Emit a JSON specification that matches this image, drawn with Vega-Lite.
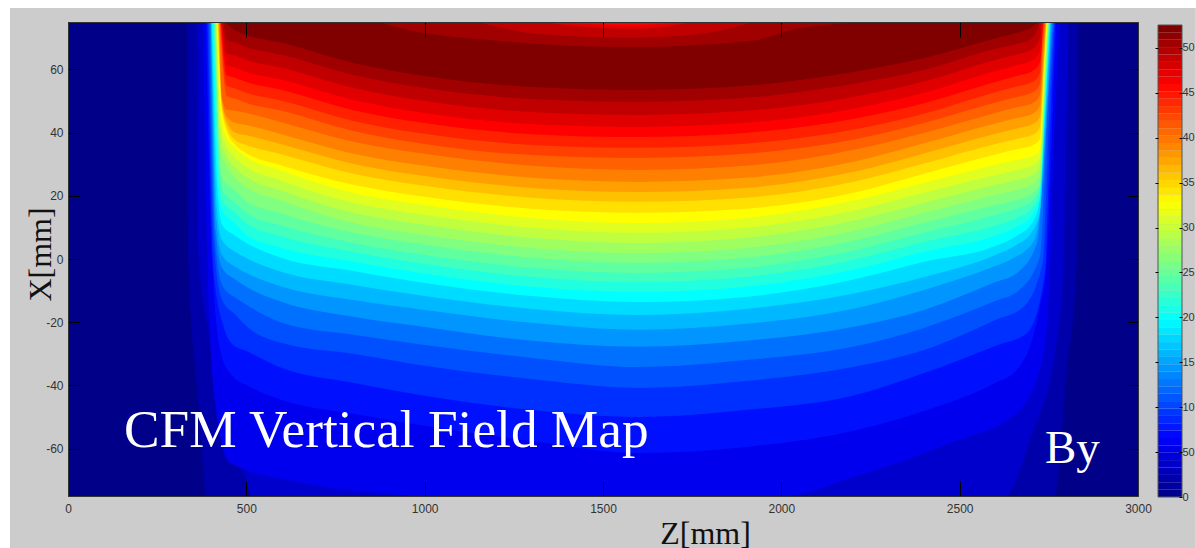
{"$schema":"https://vega.github.io/schema/vega-lite/v6.json","background":"white","padding":{"left":10,"top":8,"right":0,"bottom":0},"width":1070,"height":474,"config":{"view":{"stroke":null},"axis":{"grid":false}},"resolve":{"scale":{"x":"independent","y":"independent","color":"independent"},"axis":{"x":"independent","y":"independent"}},"layer":[{"resolve":{"axis":{"x":"independent","y":"independent"}},"layer":[
{"data":{"values":[{"a":-162.6,"b":3162,"c":-92,"d":79.4}]},"mark":{"type":"rect","color":"#cccccc","clip":false},"encoding":{"x":{"field":"a","type":"quantitative","scale":{"domain":[0,3000],"nice":false,"zero":false},"axis":null},"x2":{"field":"b"},"y":{"field":"c","type":"quantitative","scale":{"domain":[-75,75],"nice":false,"zero":false},"axis":null},"y2":{"field":"d"}}},
{"data":{"values":[
{"l":0,"z":0,"x":-75},{"l":0,"z":3000,"x":-75},
{"l":1,"z":334,"x":75},{"l":1,"z":336,"x":2.9},{"l":1,"z":365,"x":-44.6},{"l":1,"z":390,"x":-75},{"l":1,"z":2765,"x":-75},{"l":1,"z":2800,"x":-36},{"l":1,"z":2829,"x":0.7},{"l":1,"z":2832,"x":75},
{"l":2,"z":362,"x":75},{"l":2,"z":365,"x":2.9},{"l":2,"z":400,"x":-25.6},{"l":2,"z":435,"x":-43.7},{"l":2,"z":500,"x":-69.9},{"l":2,"z":515,"x":-75},{"l":2,"z":2627,"x":-75},{"l":2,"z":2697,"x":-57.3},{"l":2,"z":2773,"x":-25.6},{"l":2,"z":2790,"x":-4.4},{"l":2,"z":2804,"x":75},
{"l":3,"z":378,"x":75},{"l":3,"z":390,"x":2.9},{"l":3,"z":412,"x":-44.6},{"l":3,"z":454,"x":-64.5},{"l":3,"z":660,"x":-70.9},{"l":3,"z":940,"x":-74.7},{"l":3,"z":990,"x":-75},{"l":3,"z":2005,"x":-75},{"l":3,"z":2193,"x":-69.3},{"l":3,"z":2473,"x":-58.2},{"l":3,"z":2660,"x":-48.7},{"l":3,"z":2734,"x":-31},{"l":3,"z":2753,"x":-4.4},{"l":3,"z":2759,"x":18.7},{"l":3,"z":2781,"x":75},
{"l":4,"z":387,"x":75},{"l":4,"z":404,"x":-0.3},{"l":4,"z":430,"x":-30.4},{"l":4,"z":463,"x":-37.3},{"l":4,"z":500,"x":-39.9},{"l":4,"z":600,"x":-44.6},{"l":4,"z":800,"x":-49},{"l":4,"z":1000,"x":-52.8},{"l":4,"z":1300,"x":-57.6},{"l":4,"z":1600,"x":-61.4},{"l":4,"z":1900,"x":-59.5},{"l":4,"z":2200,"x":-54.4},{"l":4,"z":2400,"x":-48.1},{"l":4,"z":2600,"x":-39.2},{"l":4,"z":2660,"x":-35.1},{"l":4,"z":2725,"x":-15.2},{"l":4,"z":2745,"x":0.7},{"l":4,"z":2760,"x":44},{"l":4,"z":2770,"x":75},
{"l":5,"z":391,"x":75},{"l":5,"z":408,"x":-3.5},{"l":5,"z":435,"x":-20.9},{"l":5,"z":463,"x":-27.2},{"l":5,"z":500,"x":-29.1},{"l":5,"z":600,"x":-34.5},{"l":5,"z":800,"x":-39.2},{"l":5,"z":1000,"x":-43.3},{"l":5,"z":1300,"x":-47.8},{"l":5,"z":1600,"x":-50},{"l":5,"z":1900,"x":-47.8},{"l":5,"z":2200,"x":-43.3},{"l":5,"z":2400,"x":-36.1},{"l":5,"z":2600,"x":-27.5},{"l":5,"z":2689,"x":-23.4},{"l":5,"z":2739,"x":-4.4},{"l":5,"z":2755,"x":44},{"l":5,"z":2767,"x":75},
{"l":6,"z":394,"x":75},{"l":6,"z":410,"x":2.9},{"l":6,"z":432,"x":-12.9},{"l":6,"z":470,"x":-17.7},{"l":6,"z":500,"x":-21.2},{"l":6,"z":600,"x":-26.6},{"l":6,"z":800,"x":-30},{"l":6,"z":1000,"x":-33.8},{"l":6,"z":1300,"x":-38},{"l":6,"z":1600,"x":-40.8},{"l":6,"z":1900,"x":-38.6},{"l":6,"z":2200,"x":-34.2},{"l":6,"z":2400,"x":-28.8},{"l":6,"z":2600,"x":-19.3},{"l":6,"z":2678,"x":-15.2},{"l":6,"z":2734,"x":-0.3},{"l":6,"z":2750,"x":44},{"l":6,"z":2765,"x":75},
{"l":7,"z":397,"x":75},{"l":7,"z":412,"x":6},{"l":7,"z":432,"x":-8.2},{"l":7,"z":470,"x":-12.3},{"l":7,"z":500,"x":-14.5},{"l":7,"z":600,"x":-20.2},{"l":7,"z":800,"x":-24},{"l":7,"z":1000,"x":-27.2},{"l":7,"z":1300,"x":-31.3},{"l":7,"z":1600,"x":-34.2},{"l":7,"z":1900,"x":-32},{"l":7,"z":2200,"x":-27.8},{"l":7,"z":2400,"x":-21.8},{"l":7,"z":2600,"x":-13.3},{"l":7,"z":2661,"x":-10.4},{"l":7,"z":2725,"x":0.7},{"l":7,"z":2745,"x":44},{"l":7,"z":2762,"x":75},
{"l":8,"z":400,"x":75},{"l":8,"z":414,"x":9.2},{"l":8,"z":432,"x":-2.8},{"l":8,"z":470,"x":-6.6},{"l":8,"z":500,"x":-8.8},{"l":8,"z":600,"x":-13.6},{"l":8,"z":800,"x":-18.3},{"l":8,"z":1000,"x":-21.5},{"l":8,"z":1300,"x":-25.9},{"l":8,"z":1600,"x":-27.8},{"l":8,"z":1900,"x":-25.9},{"l":8,"z":2200,"x":-21.5},{"l":8,"z":2400,"x":-16.1},{"l":8,"z":2600,"x":-7.3},{"l":8,"z":2661,"x":-4.4},{"l":8,"z":2717,"x":5.1},{"l":8,"z":2735,"x":28},{"l":8,"z":2759,"x":75},
{"l":9,"z":401,"x":75},{"l":9,"z":416,"x":12.4},{"l":9,"z":432,"x":1.3},{"l":9,"z":470,"x":-2.5},{"l":9,"z":500,"x":-4.4},{"l":9,"z":600,"x":-8.8},{"l":9,"z":800,"x":-13},{"l":9,"z":1000,"x":-16.1},{"l":9,"z":1300,"x":-20.2},{"l":9,"z":1600,"x":-22.4},{"l":9,"z":1900,"x":-20.5},{"l":9,"z":2200,"x":-15.8},{"l":9,"z":2400,"x":-9.8},{"l":9,"z":2600,"x":-2.2},{"l":9,"z":2641,"x":-0.3},{"l":9,"z":2710,"x":6},{"l":9,"z":2730,"x":21.9},{"l":9,"z":2745,"x":50.4},{"l":9,"z":2757,"x":75},
{"l":10,"z":402,"x":75},{"l":10,"z":418,"x":15.5},{"l":10,"z":432,"x":6},{"l":10,"z":470,"x":2.2},{"l":10,"z":500,"x":0.3},{"l":10,"z":600,"x":-4.1},{"l":10,"z":800,"x":-8.2},{"l":10,"z":1000,"x":-11.7},{"l":10,"z":1300,"x":-15.8},{"l":10,"z":1600,"x":-17.7},{"l":10,"z":1900,"x":-15.8},{"l":10,"z":2200,"x":-11},{"l":10,"z":2400,"x":-5.7},{"l":10,"z":2600,"x":1.3},{"l":10,"z":2660,"x":4.5},{"l":10,"z":2703,"x":8.6},{"l":10,"z":2725,"x":14.9},{"l":10,"z":2738,"x":41},{"l":10,"z":2755,"x":75},
{"l":11,"z":404,"x":75},{"l":11,"z":420,"x":20.3},{"l":11,"z":432,"x":10.8},{"l":11,"z":470,"x":7.3},{"l":11,"z":500,"x":5.1},{"l":11,"z":600,"x":0.3},{"l":11,"z":800,"x":-3.8},{"l":11,"z":1000,"x":-7.6},{"l":11,"z":1300,"x":-11.7},{"l":11,"z":1600,"x":-13.6},{"l":11,"z":1900,"x":-12},{"l":11,"z":2200,"x":-6.6},{"l":11,"z":2400,"x":-0.9},{"l":11,"z":2600,"x":4.1},{"l":11,"z":2660,"x":7.3},{"l":11,"z":2705,"x":11.7},{"l":11,"z":2725,"x":18.7},{"l":11,"z":2738,"x":43},{"l":11,"z":2753,"x":75},
{"l":12,"z":407,"x":75},{"l":12,"z":422,"x":23.5},{"l":12,"z":432,"x":15.5},{"l":12,"z":470,"x":11.1},{"l":12,"z":500,"x":7.6},{"l":12,"z":600,"x":3.5},{"l":12,"z":800,"x":-0.9},{"l":12,"z":1000,"x":-4.7},{"l":12,"z":1300,"x":-8.8},{"l":12,"z":1600,"x":-10.4},{"l":12,"z":1900,"x":-8.8},{"l":12,"z":2200,"x":-3.4},{"l":12,"z":2400,"x":2.3},{"l":12,"z":2600,"x":7.4},{"l":12,"z":2660,"x":10.2},{"l":12,"z":2705,"x":14},{"l":12,"z":2725,"x":20},{"l":12,"z":2738,"x":45},{"l":12,"z":2752,"x":75},
{"l":13,"z":409,"x":75},{"l":13,"z":423,"x":26.6},{"l":13,"z":432,"x":18.7},{"l":13,"z":470,"x":14.5},{"l":13,"z":500,"x":11.2},{"l":13,"z":600,"x":7.1},{"l":13,"z":800,"x":2.2},{"l":13,"z":1000,"x":-1.6},{"l":13,"z":1300,"x":-5.7},{"l":13,"z":1600,"x":-7.3},{"l":13,"z":1900,"x":-5.7},{"l":13,"z":2200,"x":-0.3},{"l":13,"z":2400,"x":5.4},{"l":13,"z":2600,"x":10.6},{"l":13,"z":2660,"x":13},{"l":13,"z":2705,"x":16.3},{"l":13,"z":2725,"x":21.3},{"l":13,"z":2738,"x":47},{"l":13,"z":2751,"x":75},
{"l":14,"z":410,"x":75},{"l":14,"z":424,"x":29.5},{"l":14,"z":432,"x":21.9},{"l":14,"z":470,"x":17.6},{"l":14,"z":500,"x":14.6},{"l":14,"z":600,"x":10.5},{"l":14,"z":800,"x":5.1},{"l":14,"z":1000,"x":1.3},{"l":14,"z":1300,"x":-2.8},{"l":14,"z":1600,"x":-4.4},{"l":14,"z":1900,"x":-2.8},{"l":14,"z":2200,"x":2.6},{"l":14,"z":2400,"x":8.3},{"l":14,"z":2600,"x":13.9},{"l":14,"z":2660,"x":15.9},{"l":14,"z":2705,"x":18.6},{"l":14,"z":2725,"x":22.7},{"l":14,"z":2738,"x":49},{"l":14,"z":2750,"x":75},
{"l":15,"z":412,"x":75},{"l":15,"z":425,"x":32.8},{"l":15,"z":432,"x":25.8},{"l":15,"z":470,"x":21.5},{"l":15,"z":500,"x":18.3},{"l":15,"z":600,"x":14.3},{"l":15,"z":800,"x":8.3},{"l":15,"z":1000,"x":4.5},{"l":15,"z":1300,"x":0.4},{"l":15,"z":1600,"x":-1.2},{"l":15,"z":1900,"x":0.4},{"l":15,"z":2200,"x":5.8},{"l":15,"z":2400,"x":11.5},{"l":15,"z":2600,"x":17.1},{"l":15,"z":2660,"x":18.7},{"l":15,"z":2705,"x":20.9},{"l":15,"z":2725,"x":24},{"l":15,"z":2738,"x":51},{"l":15,"z":2749,"x":75},
{"l":16,"z":413,"x":75},{"l":16,"z":426,"x":35.1},{"l":16,"z":440,"x":30.4},{"l":16,"z":470,"x":25.6},{"l":16,"z":500,"x":22.8},{"l":16,"z":600,"x":18.4},{"l":16,"z":800,"x":11.4},{"l":16,"z":1000,"x":7.6},{"l":16,"z":1300,"x":3.5},{"l":16,"z":1600,"x":1.9},{"l":16,"z":1900,"x":3.5},{"l":16,"z":2200,"x":8.9},{"l":16,"z":2400,"x":14.6},{"l":16,"z":2600,"x":20.3},{"l":16,"z":2660,"x":21.9},{"l":16,"z":2705,"x":23.8},{"l":16,"z":2725,"x":26.6},{"l":16,"z":2738,"x":53},{"l":16,"z":2748,"x":75},
{"l":17,"z":415,"x":75},{"l":17,"z":427,"x":38.3},{"l":17,"z":440,"x":33.6},{"l":17,"z":470,"x":28.8},{"l":17,"z":500,"x":26},{"l":17,"z":600,"x":21.6},{"l":17,"z":800,"x":14.6},{"l":17,"z":1000,"x":10.8},{"l":17,"z":1300,"x":6.7},{"l":17,"z":1600,"x":5.1},{"l":17,"z":1900,"x":6.7},{"l":17,"z":2200,"x":12.1},{"l":17,"z":2400,"x":17.8},{"l":17,"z":2600,"x":23.5},{"l":17,"z":2660,"x":25.1},{"l":17,"z":2705,"x":26.7},{"l":17,"z":2725,"x":29.3},{"l":17,"z":2738,"x":55},{"l":17,"z":2747,"x":75},
{"l":18,"z":416,"x":75},{"l":18,"z":428,"x":41.5},{"l":18,"z":440,"x":36.8},{"l":18,"z":470,"x":32},{"l":18,"z":500,"x":29.2},{"l":18,"z":600,"x":24.8},{"l":18,"z":800,"x":17.8},{"l":18,"z":1000,"x":14},{"l":18,"z":1300,"x":9.9},{"l":18,"z":1600,"x":8.3},{"l":18,"z":1900,"x":9.9},{"l":18,"z":2200,"x":15.3},{"l":18,"z":2400,"x":21},{"l":18,"z":2600,"x":26.6},{"l":18,"z":2660,"x":28.2},{"l":18,"z":2705,"x":29.7},{"l":18,"z":2725,"x":31.9},{"l":18,"z":2737,"x":57},{"l":18,"z":2746,"x":75},
{"l":19,"z":418,"x":75},{"l":19,"z":429,"x":44.6},{"l":19,"z":440,"x":39.9},{"l":19,"z":470,"x":35.1},{"l":19,"z":500,"x":32.3},{"l":19,"z":600,"x":27.9},{"l":19,"z":800,"x":20.9},{"l":19,"z":1000,"x":17.1},{"l":19,"z":1300,"x":13},{"l":19,"z":1600,"x":11.4},{"l":19,"z":1900,"x":13},{"l":19,"z":2200,"x":18.4},{"l":19,"z":2400,"x":24.1},{"l":19,"z":2600,"x":29.8},{"l":19,"z":2660,"x":31.4},{"l":19,"z":2705,"x":32.6},{"l":19,"z":2725,"x":34.5},{"l":19,"z":2736,"x":59},{"l":19,"z":2745,"x":75},
{"l":20,"z":419,"x":75},{"l":20,"z":432,"x":47},{"l":20,"z":445,"x":40.5},{"l":20,"z":470,"x":36},{"l":20,"z":500,"x":33.5},{"l":20,"z":600,"x":29.6},{"l":20,"z":800,"x":23.5},{"l":20,"z":1000,"x":19.7},{"l":20,"z":1300,"x":15.9},{"l":20,"z":1600,"x":14.6},{"l":20,"z":1900,"x":15.9},{"l":20,"z":2200,"x":20.9},{"l":20,"z":2400,"x":27},{"l":20,"z":2600,"x":33.1},{"l":20,"z":2660,"x":34.7},{"l":20,"z":2705,"x":36},{"l":20,"z":2725,"x":38},{"l":20,"z":2736,"x":60.5},{"l":20,"z":2744,"x":75},
{"l":21,"z":421,"x":75},{"l":21,"z":432,"x":48},{"l":21,"z":445,"x":42},{"l":21,"z":470,"x":37.5},{"l":21,"z":500,"x":36.1},{"l":21,"z":600,"x":33.1},{"l":21,"z":800,"x":27},{"l":21,"z":1000,"x":23.2},{"l":21,"z":1300,"x":19.4},{"l":21,"z":1600,"x":18.1},{"l":21,"z":1900,"x":19.4},{"l":21,"z":2200,"x":24.4},{"l":21,"z":2400,"x":30.2},{"l":21,"z":2600,"x":36.4},{"l":21,"z":2660,"x":38},{"l":21,"z":2705,"x":39.3},{"l":21,"z":2725,"x":41.5},{"l":21,"z":2736,"x":62},{"l":21,"z":2743,"x":75},
{"l":22,"z":422,"x":75},{"l":22,"z":432,"x":49},{"l":22,"z":445,"x":43.5},{"l":22,"z":470,"x":39.9},{"l":22,"z":500,"x":39.2},{"l":22,"z":600,"x":36.2},{"l":22,"z":800,"x":30.1},{"l":22,"z":1000,"x":26.3},{"l":22,"z":1300,"x":22.5},{"l":22,"z":1600,"x":21.2},{"l":22,"z":1900,"x":22.5},{"l":22,"z":2200,"x":27.5},{"l":22,"z":2400,"x":33.4},{"l":22,"z":2600,"x":39.6},{"l":22,"z":2660,"x":41.3},{"l":22,"z":2705,"x":42.7},{"l":22,"z":2725,"x":45},{"l":22,"z":2736,"x":63.5},{"l":22,"z":2742,"x":75},
{"l":23,"z":423,"x":75},{"l":23,"z":432,"x":50},{"l":23,"z":445,"x":45},{"l":23,"z":470,"x":43},{"l":23,"z":500,"x":42.4},{"l":23,"z":600,"x":39.4},{"l":23,"z":800,"x":33.3},{"l":23,"z":1000,"x":29.5},{"l":23,"z":1300,"x":25.7},{"l":23,"z":1600,"x":24.4},{"l":23,"z":1900,"x":25.7},{"l":23,"z":2200,"x":30.7},{"l":23,"z":2400,"x":36.6},{"l":23,"z":2600,"x":42.9},{"l":23,"z":2660,"x":44.6},{"l":23,"z":2705,"x":46},{"l":23,"z":2725,"x":48.4},{"l":23,"z":2735,"x":65},{"l":23,"z":2741,"x":75},
{"l":24,"z":425,"x":75},{"l":24,"z":432,"x":51},{"l":24,"z":445,"x":47.2},{"l":24,"z":470,"x":46.9},{"l":24,"z":500,"x":46.2},{"l":24,"z":600,"x":43.2},{"l":24,"z":800,"x":37.1},{"l":24,"z":1000,"x":33.3},{"l":24,"z":1300,"x":29.5},{"l":24,"z":1600,"x":28.2},{"l":24,"z":1900,"x":29.5},{"l":24,"z":2200,"x":34.5},{"l":24,"z":2400,"x":39.9},{"l":24,"z":2600,"x":46.2},{"l":24,"z":2660,"x":48},{"l":24,"z":2705,"x":49.4},{"l":24,"z":2725,"x":51.9},{"l":24,"z":2734,"x":67},{"l":24,"z":2740,"x":75},
{"l":25,"z":426,"x":75},{"l":25,"z":438,"x":55.7},{"l":25,"z":445,"x":51.6},{"l":25,"z":470,"x":50.7},{"l":25,"z":500,"x":49.4},{"l":25,"z":600,"x":46.9},{"l":25,"z":800,"x":40.5},{"l":25,"z":1000,"x":36.4},{"l":25,"z":1300,"x":32.9},{"l":25,"z":1600,"x":32},{"l":25,"z":1900,"x":33.3},{"l":25,"z":2200,"x":37.7},{"l":25,"z":2400,"x":43},{"l":25,"z":2600,"x":49.5},{"l":25,"z":2660,"x":51.3},{"l":25,"z":2705,"x":52.8},{"l":25,"z":2725,"x":55.4},{"l":25,"z":2733,"x":69},{"l":25,"z":2738,"x":75},
{"l":26,"z":427,"x":75},{"l":26,"z":438,"x":58.9},{"l":26,"z":445,"x":54.8},{"l":26,"z":470,"x":53.9},{"l":26,"z":500,"x":52.6},{"l":26,"z":600,"x":50.1},{"l":26,"z":800,"x":43.7},{"l":26,"z":1000,"x":39.6},{"l":26,"z":1300,"x":36.1},{"l":26,"z":1600,"x":35.2},{"l":26,"z":1900,"x":36.5},{"l":26,"z":2200,"x":40.9},{"l":26,"z":2400,"x":46},{"l":26,"z":2600,"x":52.8},{"l":26,"z":2660,"x":54.6},{"l":26,"z":2705,"x":56.1},{"l":26,"z":2725,"x":58.9},{"l":26,"z":2732,"x":71},{"l":26,"z":2736,"x":75},
{"l":27,"z":429,"x":75},{"l":27,"z":438,"x":62.3},{"l":27,"z":445,"x":58.2},{"l":27,"z":470,"x":57.3},{"l":27,"z":500,"x":56},{"l":27,"z":600,"x":53.5},{"l":27,"z":800,"x":47.1},{"l":27,"z":1000,"x":43},{"l":27,"z":1300,"x":39.5},{"l":27,"z":1600,"x":38.6},{"l":27,"z":1900,"x":39.9},{"l":27,"z":2200,"x":44.3},{"l":27,"z":2400,"x":49.3},{"l":27,"z":2600,"x":56},{"l":27,"z":2660,"x":57.9},{"l":27,"z":2705,"x":59.5},{"l":27,"z":2725,"x":62.4},{"l":27,"z":2734,"x":75},
{"l":28,"z":430,"x":75},{"l":28,"z":438,"x":65.5},{"l":28,"z":445,"x":61.4},{"l":28,"z":470,"x":60.5},{"l":28,"z":500,"x":59.2},{"l":28,"z":600,"x":56.7},{"l":28,"z":800,"x":50.3},{"l":28,"z":1000,"x":46.2},{"l":28,"z":1300,"x":42.7},{"l":28,"z":1600,"x":41.8},{"l":28,"z":1900,"x":43.1},{"l":28,"z":2200,"x":47.5},{"l":28,"z":2400,"x":52.6},{"l":28,"z":2600,"x":59.5},{"l":28,"z":2660,"x":61.3},{"l":28,"z":2705,"x":63},{"l":28,"z":2725,"x":66},{"l":28,"z":2731,"x":75},
{"l":29,"z":432,"x":75},{"l":29,"z":438,"x":69.3},{"l":29,"z":445,"x":65.2},{"l":29,"z":470,"x":64.3},{"l":29,"z":500,"x":63},{"l":29,"z":600,"x":60.5},{"l":29,"z":800,"x":54.1},{"l":29,"z":1000,"x":50},{"l":29,"z":1300,"x":46.5},{"l":29,"z":1600,"x":45.6},{"l":29,"z":1900,"x":46.9},{"l":29,"z":2200,"x":51.3},{"l":29,"z":2400,"x":56.2},{"l":29,"z":2600,"x":63},{"l":29,"z":2660,"x":64.7},{"l":29,"z":2705,"x":66.5},{"l":29,"z":2725,"x":70},{"l":29,"z":2729,"x":75},
{"l":30,"z":436,"x":75},{"l":30,"z":438,"x":73.4},{"l":30,"z":445,"x":69.3},{"l":30,"z":470,"x":68.4},{"l":30,"z":500,"x":67.1},{"l":30,"z":600,"x":64.6},{"l":30,"z":800,"x":58.2},{"l":30,"z":1000,"x":54.1},{"l":30,"z":1300,"x":50.6},{"l":30,"z":1600,"x":49.7},{"l":30,"z":1900,"x":51},{"l":30,"z":2200,"x":55.4},{"l":30,"z":2400,"x":59.8},{"l":30,"z":2600,"x":66.5},{"l":30,"z":2660,"x":68},{"l":30,"z":2705,"x":70},{"l":30,"z":2725,"x":75},
{"l":31,"z":440,"x":75},{"l":31,"z":470,"x":72.2},{"l":31,"z":500,"x":70.9},{"l":31,"z":600,"x":68.4},{"l":31,"z":800,"x":62},{"l":31,"z":1000,"x":57.9},{"l":31,"z":1300,"x":54.4},{"l":31,"z":1600,"x":53.5},{"l":31,"z":1900,"x":54.8},{"l":31,"z":2200,"x":59.2},{"l":31,"z":2400,"x":63.6},{"l":31,"z":2600,"x":69.8},{"l":31,"z":2660,"x":71.5},{"l":31,"z":2705,"x":73.5},{"l":31,"z":2722,"x":75}
]},"mark":{"type":"area","clip":true,"interpolate":"monotone"},"encoding":{"x":{"field":"z","type":"quantitative","scale":{"domain":[0,3000],"nice":false,"zero":false},"axis":{"orient":"bottom","values":[0,500,1000,1500,2000,2500,3000],"tickSize":-15,"tickColor":"#000000","domainColor":"#333333","labelFont":"Liberation Sans","labelFontSize":12,"labelColor":"#333333","labelPadding":22,"labelFlush":false,"labelBound":false,"labelOverlap":false,"labelExpr":"''+datum.value","title":"Z[mm]","titleFont":"Liberation Serif","titleFontSize":32,"titleFontWeight":"normal","titleColor":"#111111","titleX":637,"titleY":47,"titleBaseline":"alphabetic","zindex":1}},"y":{"field":"x","type":"quantitative","stack":null,"scale":{"domain":[-75,75],"nice":false,"zero":false},"axis":{"orient":"left","values":[-60,-40,-20,0,20,40,60],"tickSize":-11,"tickColor":"#000000","domainColor":"#333333","labelFont":"Liberation Sans","labelFontSize":12,"labelColor":"#333333","labelPadding":16,"labelExpr":"''+datum.value","title":"X[mm]","titleFont":"Liberation Serif","titleFontSize":32,"titleFontWeight":"normal","titleColor":"#111111","titleX":-18,"titleY":232,"titleAngle":-90,"titleBaseline":"alphabetic","zindex":1}},"y2":{"datum":75},"color":{"field":"l","type":"ordinal","legend":null,"scale":{"domain":[0,1,2,3,4,5,6,7,8,9,10,11,12,13,14,15,16,17,18,19,20,21,22,23,24,25,26,27,28,29,30,31],"range":["#000088","#0000aa","#0000cc","#0000ee","#0010ff","#0030ff","#0050ff","#0070ff","#0095ff","#00b8ff","#00dcff","#00ffff","#20ffdf","#40ffbf","#60ff9f","#80ff80","#a0ff60","#c0ff40","#e0ff20","#ffff00","#ffe000","#ffc000","#ffa000","#ff8000","#ff6000","#ff4000","#ff2000","#ff0000","#e00000","#c00000","#a00000","#800000"]}}}},
{"data":{"values":[
{"l":30,"z":875,"x":75},{"l":30,"z":931,"x":73.1},{"l":30,"z":1211,"x":69},{"l":30,"z":1576,"x":67.1},{"l":30,"z":1912,"x":69},{"l":30,"z":2052,"x":73.1},{"l":30,"z":2249,"x":75},
{"l":29,"z":1147,"x":75},{"l":29,"z":1323,"x":71.2},{"l":29,"z":1576,"x":70},{"l":29,"z":1772,"x":71.2},{"l":29,"z":1920,"x":75},
{"l":28,"z":1323,"x":75},{"l":28,"z":1450,"x":73.5},{"l":28,"z":1576,"x":72.8},{"l":28,"z":1650,"x":73.2},{"l":28,"z":1752,"x":75},
{"l":27,"z":1380,"x":75},{"l":27,"z":1576,"x":74},{"l":27,"z":1724,"x":75}
]},"mark":{"type":"area","clip":true,"interpolate":"monotone"},"encoding":{"x":{"field":"z","type":"quantitative","scale":{"domain":[0,3000],"nice":false,"zero":false},"axis":{"orient":"top","values":[0,500,1000,1500,2000,2500,3000],"tickSize":-15,"tickColor":"#000000","domainColor":"#333333","labels":false,"title":null,"zindex":1}},"y":{"field":"x","type":"quantitative","stack":null,"scale":{"domain":[-75,75],"nice":false,"zero":false},"axis":{"orient":"right","values":[-60,-40,-20,0,20,40,60],"tickSize":-11,"tickColor":"#000000","domainColor":"#333333","labels":false,"title":null,"zindex":1}},"y2":{"datum":75},"color":{"field":"l","type":"ordinal","legend":null}}},
{"data":{"values":[{"t":"CFM Vertical Field Map","z":157,"x":-59.5}]},"mark":{"type":"text","font":"Liberation Serif","fontSize":53.3,"color":"#ffffff","align":"left","baseline":"alphabetic"},"encoding":{"x":{"field":"z","type":"quantitative","axis":null,"scale":{"domain":[0,3000],"nice":false,"zero":false}},"y":{"field":"x","type":"quantitative","axis":null,"scale":{"domain":[-75,75],"nice":false,"zero":false}},"text":{"field":"t"}}},
{"data":{"values":[{"t":"By","z":2739,"x":-64.5}]},"mark":{"type":"text","font":"Liberation Serif","fontSize":47,"color":"#ffffff","align":"left","baseline":"alphabetic"},"encoding":{"x":{"field":"z","type":"quantitative","axis":null,"scale":{"domain":[0,3000],"nice":false,"zero":false}},"y":{"field":"x","type":"quantitative","axis":null,"scale":{"domain":[-75,75],"nice":false,"zero":false}},"text":{"field":"t"}}}
]},
{"resolve":{"axis":{"y":"independent"}},"layer":[
{"data":{"values":[{"a":0,"b":0.82},{"a":0.82,"b":1.64},{"a":1.64,"b":2.46},{"a":2.46,"b":3.29},{"a":3.29,"b":4.11},{"a":4.11,"b":4.93},{"a":4.93,"b":5.75},{"a":5.75,"b":6.57},{"a":6.57,"b":7.39},{"a":7.39,"b":8.21},{"a":8.21,"b":9.03},{"a":9.03,"b":9.86},{"a":9.86,"b":10.68},{"a":10.68,"b":11.5},{"a":11.5,"b":12.32},{"a":12.32,"b":13.14},{"a":13.14,"b":13.96},{"a":13.96,"b":14.78},{"a":14.78,"b":15.6},{"a":15.6,"b":16.43},{"a":16.43,"b":17.25},{"a":17.25,"b":18.07},{"a":18.07,"b":18.89},{"a":18.89,"b":19.71},{"a":19.71,"b":20.53},{"a":20.53,"b":21.35},{"a":21.35,"b":22.17},{"a":22.17,"b":23},{"a":23,"b":23.82},{"a":23.82,"b":24.64},{"a":24.64,"b":25.46},{"a":25.46,"b":26.28},{"a":26.28,"b":27.1},{"a":27.1,"b":27.92},{"a":27.92,"b":28.74},{"a":28.74,"b":29.57},{"a":29.57,"b":30.39},{"a":30.39,"b":31.21},{"a":31.21,"b":32.03},{"a":32.03,"b":32.85},{"a":32.85,"b":33.67},{"a":33.67,"b":34.49},{"a":34.49,"b":35.31},{"a":35.31,"b":36.14},{"a":36.14,"b":36.96},{"a":36.96,"b":37.78},{"a":37.78,"b":38.6},{"a":38.6,"b":39.42},{"a":39.42,"b":40.24},{"a":40.24,"b":41.06},{"a":41.06,"b":41.88},{"a":41.88,"b":42.71},{"a":42.71,"b":43.53},{"a":43.53,"b":44.35},{"a":44.35,"b":45.17},{"a":45.17,"b":45.99},{"a":45.99,"b":46.81},{"a":46.81,"b":47.63},{"a":47.63,"b":48.45},{"a":48.45,"b":49.28},{"a":49.28,"b":50.1},{"a":50.1,"b":50.92},{"a":50.92,"b":51.74},{"a":51.74,"b":52.56}]},"mark":{"type":"rect"},"encoding":{"x":{"datum":0,"type":"quantitative","scale":{"domain":[0,1],"range":[1090,1114]},"axis":null},"x2":{"datum":1},"y":{"field":"a","type":"quantitative","scale":{"domain":[0,52.56],"range":[475,3],"nice":false,"zero":false},"axis":{"orient":"right","offset":20,"values":[5,10,15,20,25,30,35,40,45,50],"tickSize":-3,"tickColor":"#000000","labels":false,"domain":false,"title":null,"zindex":1}},"y2":{"field":"b"},"color":{"field":"a","type":"quantitative","legend":null,"scale":{"domain":[0,6.2,19.3,32.4,45.6,51.74],"range":["#00008f","#0000ff","#00ffff","#ffff00","#ff0000","#800000"],"interpolate":"rgb"}}}},
{"data":{"values":[{"a":0,"b":52.56}]},"mark":{"type":"rect","fillOpacity":0,"stroke":"#555555","strokeWidth":1},"encoding":{"x":{"datum":0,"type":"quantitative","scale":{"domain":[0,1],"range":[1090,1114]},"axis":null},"x2":{"datum":1},"y":{"field":"a","type":"quantitative","scale":{"domain":[0,52.56],"range":[475,3],"nice":false,"zero":false},"axis":{"orient":"right","offset":44,"values":[0,5,10,15,20,25,30,35,40,45,50],"tickSize":-3,"tickColor":"#000000","labelFont":"Liberation Sans","labelFontSize":11,"labelColor":"#333333","labelPadding":3,"labelExpr":"datum.value==5?'50':''+datum.value","domain":false,"title":null,"zindex":1}},"y2":{"field":"b"}}}
]}
]}
